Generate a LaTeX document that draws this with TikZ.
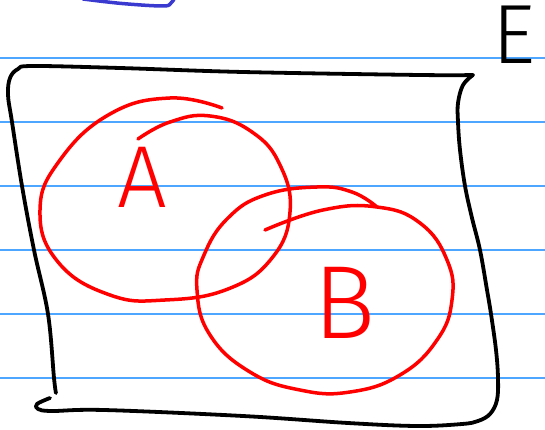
\documentclass[tikz,border=0pt]{standalone}
\usepackage{fontspec}
\newfontfamily\handfont{Fira Sans Light}
\definecolor{ruled}{RGB}{77,166,255}
\definecolor{inkred}{RGB}{255,0,0}
\definecolor{inkblue}{RGB}{58,58,208}
\begin{document}
\begin{tikzpicture}[x=1pt,y=-1pt, line cap=round, line join=round,
  blackink/.style={line width=3.8pt, black},
  redink/.style={line width=3.5pt, inkred},
  blueink/.style={line width=3.5pt, inkblue},
  ruleline/.style={line width=1.2pt, ruled},
  handtext/.style={inner sep=0pt}]
\useasboundingbox (0,0) rectangle (545,430);
\clip (0,0) rectangle (545,430);
% ruled paper
\foreach \yy in {58,122,186,250,314,378} \draw[ruleline] (0,\yy) -- (545,\yy);
% blue stroke at the top
\draw[blueink] plot[smooth, tension=0.6] coordinates {(83,-1) (122,3.5) (163,6) (171,3) (174,-1)};
% universe E : left side and top
\draw[blackink] plot[smooth, tension=0.6] coordinates {(56,393) (54,378) (48,314) (34,250) (22,186) (12,122) (8,95) (10,78) (18,69) (33,66) (120,68) (243,72) (420,75) (473,75)};
% right side and bottom
\draw[blackink] plot[smooth, tension=0.6] coordinates {(473,75) (463,85) (458,103) (458,122) (460,150) (465,186) (472,218) (480,250) (487,290) (491,314) (496,350) (498,378) (497,400) (490,414) (478,421) (462,424) (417,426) (348,423) (243,416) (104,410) (52,411) (38,409) (37,404) (50,398)};
% set A
\draw[redink] plot[smooth, tension=0.75] coordinates {(222,108) (170,98) (110,114) (60,160) (40,210) (58,262) (110,295) (165,300) (228,289) (272,258) (290,212) (280,165) (252,132) (210,116) (170,122) (138,139)};
% set B
\draw[redink] plot[smooth, tension=0.75] coordinates {(265,230) (323,210) (377,207) (420,223) (447,260) (452,300) (437,340) (400,375) (350,392) (300,390) (250,372) (210,335) (197,290) (204,255) (228,218) (265,195) (317,187) (352,192) (377,207)};
% labels
\node[handtext, text=inkred, font=\handfont\fontsize{88}{88}\selectfont] (labA) at (142,177) {A};
\node[handtext, text=inkred, font=\handfont\fontsize{104}{104}\selectfont] (labB) at (345,303) {B};
\node[handtext, text=black, font=\handfont\fontsize{84}{84}\selectfont] (labE) at (514,35) {E};
\end{tikzpicture}
\end{document}
